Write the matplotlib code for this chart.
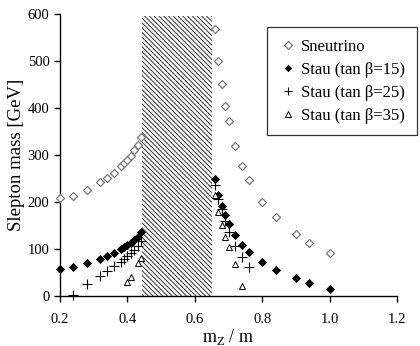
import matplotlib
matplotlib.use("Agg")
import matplotlib.pyplot as plt
from matplotlib.lines import Line2D

plt.rcParams['font.family'] = ['Liberation Serif', 'DejaVu Serif']
plt.rcParams['mathtext.fontset'] = 'custom'
plt.rcParams['mathtext.rm'] = 'Liberation Serif'
plt.rcParams['hatch.linewidth'] = 0.7

# Sneutrino
snu_x_left = [0.20, 0.24, 0.28, 0.32, 0.34, 0.36, 0.38, 0.39, 0.40, 0.41, 0.42, 0.43, 0.44]
snu_y_left = [208, 213, 226, 242, 251, 263, 276, 283, 290, 298, 310, 322, 338]
snu_x_right = [0.66, 0.67, 0.68, 0.69, 0.70, 0.72, 0.74, 0.76, 0.80, 0.84, 0.90, 0.94, 1.00]
snu_y_right = [568, 501, 452, 405, 373, 320, 278, 247, 200, 169, 133, 113, 91]

# Stau tan beta = 15
s15_x_left = [0.20, 0.24, 0.28, 0.32, 0.34, 0.36, 0.38, 0.39, 0.40, 0.41, 0.42, 0.43, 0.44]
s15_y_left = [57, 63, 70, 79, 85, 92, 100, 105, 109, 114, 120, 127, 136]
s15_x_right = [0.66, 0.67, 0.68, 0.69, 0.70, 0.72, 0.74, 0.76, 0.80, 0.84, 0.90, 0.94, 1.00]
s15_y_right = [250, 216, 193, 172, 154, 130, 109, 94, 72, 56, 38, 28, 16]

# Stau tan beta = 25
s25_x_left = [0.24, 0.28, 0.32, 0.34, 0.36, 0.38, 0.39, 0.40, 0.41, 0.42, 0.43, 0.44]
s25_y_left = [2, 26, 44, 54, 64, 73, 79, 85, 91, 98, 106, 117]
s25_x_right = [0.66, 0.67, 0.68, 0.69, 0.70, 0.72, 0.74, 0.76]
s25_y_right = [237, 207, 185, 160, 137, 108, 84, 63]

# Stau tan beta = 35
s35_x_left = [0.40, 0.41, 0.43, 0.44]
s35_y_left = [30, 40, 70, 82]
s35_x_right = [0.66, 0.67, 0.68, 0.69, 0.70, 0.72, 0.74]
s35_y_right = [216, 179, 151, 127, 105, 68, 21]

# excluded band
band_x = [0.444, 0.652]
band_top = 595

labels = ['Sneutrino', 'Stau (tan \u03b2=15)', 'Stau (tan \u03b2=25)', 'Stau (tan \u03b2=35)']
x_ticks = [0.2, 0.4, 0.6, 0.8, 1.0, 1.2]
y_ticks = [0, 100, 200, 300, 400, 500, 600]

fig = plt.figure(figsize=(4.2, 3.46), dpi=100)
ax = fig.add_axes([0.1429, 0.1436, 0.8024, 0.8159])

ax.fill_between(band_x, 0, band_top, facecolor='white', edgecolor='#333333',
                hatch='\\\\\\\\\\\\\\', linewidth=0, zorder=1)

styles = [
    dict(marker='D', mfc='white', mec='#777777', ms=4.5, mew=0.9),
    dict(marker='D', mfc='black', mec='black', ms=4.0, mew=0.6),
    dict(marker='+', mfc='black', mec='black', ms=6.5, mew=0.8),
    dict(marker='^', mfc='white', mec='black', ms=5.0, mew=0.7),
]
series = [
    (snu_x_left + snu_x_right, snu_y_left + snu_y_right),
    (s15_x_left + s15_x_right, s15_y_left + s15_y_right),
    (s25_x_left + s25_x_right, s25_y_left + s25_y_right),
    (s35_x_left + s35_x_right, s35_y_left + s35_y_right),
]
for (xs, ys), st in zip(series, styles):
    ax.plot(xs, ys, linestyle='none', clip_on=False, zorder=3, **st)

ax.set_xlim(0.2, 1.2)
ax.set_ylim(0, 600)
ax.set_xticks(x_ticks)
ax.set_xticklabels([f'{t:.1f}' for t in x_ticks])
ax.set_yticks(y_ticks)
ax.spines['top'].set_visible(False)
ax.spines['right'].set_visible(False)
for s in ['left', 'bottom']:
    ax.spines[s].set_linewidth(1.0)
ax.tick_params(direction='out', length=4, width=1.0, labelsize=10.5, colors='black')
ax.tick_params(axis='x', pad=8)
ax.set_xlabel(r'm$_{\mathregular{Z}}$ / m', fontsize=13, labelpad=1)
ax.set_ylabel('Slepton mass [GeV]', fontsize=13.5, labelpad=2)

handles = [Line2D([], [], linestyle='none', **dict(st, ms=st['ms'] * 0.8)) for st in styles]
leg = fig.legend(handles, labels, loc='upper left', bbox_to_anchor=(0.636, 0.922),
                 frameon=True, fancybox=False, edgecolor='black', fontsize=12,
                 handlelength=1.1, handletextpad=0.25, labelspacing=0.42,
                 borderpad=0.7, borderaxespad=0.0)
leg.get_frame().set_linewidth(0.9)

fig.savefig('out.png', dpi=100)
